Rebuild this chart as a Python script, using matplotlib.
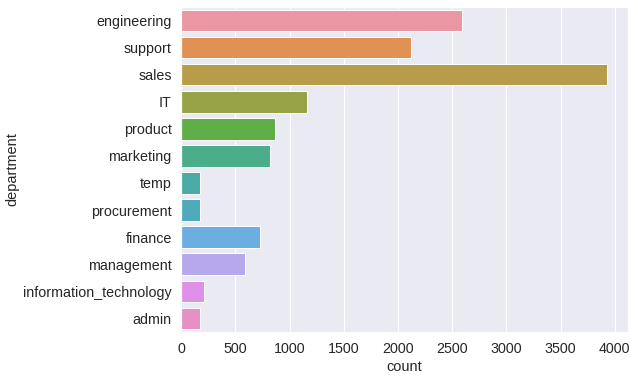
import matplotlib
matplotlib.use("Agg")
import matplotlib.pyplot as plt
import seaborn as sns

# Employee counts per department
departments = [
    "engineering", "support", "sales", "IT", "product", "marketing",
    "temp", "procurement", "finance", "management",
    "information_technology", "admin",
]
counts = [2589, 2115, 3923, 1156, 864, 815, 178, 169, 723, 593, 206, 178]

sns.set_theme(style="darkgrid", font_scale=1.3)
plt.rcParams["font.family"] = ["Arial", "Liberation Sans", "DejaVu Sans"]

# older seaborn: husl with l=.7 for many categories, then desaturated to .75
colors = [sns.desaturate(c, 0.75) for c in sns.husl_palette(len(departments), l=.7)]

fig = plt.figure(figsize=(638 / 72, 379 / 72), dpi=72)
ax = fig.add_axes([0.284, 0.124, 0.7, 0.858])

sns.barplot(
    x=counts, y=departments, hue=departments, palette=colors,
    legend=False, saturation=1, edgecolor="white", linewidth=1, ax=ax,
)
ax.set_xlabel("count", fontsize=14.5)
ax.set_ylabel("department", fontsize=14.5)
ax.set_xticks(range(0, 4001, 500))

fig.savefig("out.png", dpi=72)
